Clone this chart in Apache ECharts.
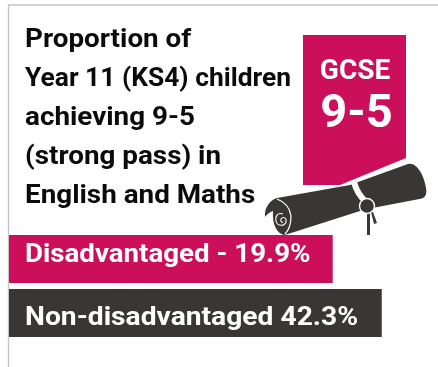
<!DOCTYPE html>
<html>
<head>
<meta charset="utf-8">
<style>html,body{margin:0;padding:0;background:#fff}#chart{width:438px;height:367px}</style>
<script src="https://cdn.jsdelivr.net/npm/echarts@6/dist/echarts.min.js"></script>
</head>
<body>
<div id="chart"></div>
<script>
// KS4 attainment at grades 9-5 in English and Maths
const titleLines = ['Proportion of', 'Year 11 (KS4) children', 'achieving 9-5', '(strong pass) in', 'English and Maths'];
const categories = ['Disadvantaged', 'Non-disadvantaged'];
const values = [19.9, 42.3];
const barLabels = ['Disadvantaged - 19.9%', 'Non-disadvantaged 42.3%'];
const PINK = '#cb0f5a';
const DARK = '#383736';
const FONT = 'Roboto';
const AXIS_MIN = -128;
const AXIS_MAX = 68;

// Outline shapes for the rolled scroll
function shape(name, pathData) {
  echarts.graphic.registerShape(name, echarts.graphic.extendPath(pathData, {}));
  return name;
}
const rollBody = shape('rollBody', 'M265 217 C264 208 270 200 277 198 L350 185 L358 182 L408 164 C416 162 424 174 426 188 C427 193 426 197 422 198.5 L375 207.5 L360 211 L288 234 L284 235 C277 233 272 225 273 211 C270 212 267 214 265 217 Z');
const rollEdge = shape('rollEdge', 'M277 199 C285 202 290 208 291 216 C291 224 289 230 285 234');
const rollCurl = shape('rollCurl', 'M283 214 C278 212 275 216 276 221 C277 226 284 227 286 222 C287 218 283 216 281 219 C280 221 282 223 283 222');
const rollTie = shape('rollTie', 'M354 182 C356 190 360 196 365 201');

// Lettering is slightly extended; the long line is set tighter to fit beside the ribbon
const titleText = titleLines.map((line, i) => ({
  type: 'text', x: 25, y: 46.7 + i * 39 - 19.5, scaleX: i === 1 ? 1.015 : 1.07,
  style: { text: line, font: '700 26px ' + FONT, fill: '#0b0b0b' }
}));

const emblem = [
  { type: 'polygon', shape: { points: [[303, 35], [406, 35], [406, 158], [340, 185], [303, 185]] }, style: { fill: PINK } },
  { type: 'text', x: 355, y: 58, style: { text: 'GCSE', font: '700 28px ' + FONT, fill: '#fff', textAlign: 'center' } },
  { type: 'text', x: 356.5, y: 92, style: { text: '9-5', font: '700 47px ' + FONT, fill: '#fff', textAlign: 'center' } },
  { type: rollBody, style: { fill: DARK } },
  { type: rollEdge, style: { fill: 'none', stroke: '#fff', lineWidth: 1.2 } },
  { type: rollCurl, style: { fill: 'none', stroke: '#fff', lineWidth: 1.1 } },
  { type: rollTie, style: { fill: 'none', stroke: '#fff', lineWidth: 6 } },
  { type: 'polygon', shape: { points: [[367, 212], [370, 212], [370, 235], [367, 235]] }, style: { fill: DARK } },
  { type: 'polygon', shape: { points: [[371, 212], [373, 212], [377, 223], [374, 224]] }, style: { fill: DARK } },
  { type: 'circle', shape: { cx: 367, cy: 206, r: 7.5 }, style: { fill: DARK, stroke: '#fff', lineWidth: 1.4 } }
];

// Card frame along the top and left edges
const frame = [
  { type: 'polyline', shape: { points: [[8.5, 367], [8.5, 5], [438, 5]] }, style: { fill: 'none', stroke: '#c4c4c4', lineWidth: 1.3 } }
];

// Bars run from the truncated axis start to each value
function renderBar(params, api) {
  const i = api.value(1);
  const end = api.coord([api.value(0), i]);
  const start = api.coord([AXIS_MIN, i]);
  const height = 48;
  return {
    type: 'group',
    children: [
      { type: 'rect', shape: { x: start[0], y: end[1] - height / 2, width: end[0] - start[0], height },
        style: { fill: i === 0 ? PINK : DARK } },
      { type: 'text', x: start[0] + 16, y: end[1] + (i === 0 ? -16.5 : -8), scaleX: i === 0 ? 1.065 : 1.085,
        style: { text: barLabels[i], font: '700 26px ' + FONT, fill: '#fff' } }
    ]
  };
}

const chart = echarts.init(document.getElementById('chart'), null, { renderer: 'canvas' });
chart.setOption({
  animation: false,
  backgroundColor: '#fff',
  grid: { left: 9, top: 232, width: 429, height: 108 },
  xAxis: { type: 'value', min: AXIS_MIN, max: AXIS_MAX, show: false },
  yAxis: { type: 'category', data: categories, inverse: true, show: false },
  series: [{
    type: 'custom',
    renderItem: renderBar,
    encode: { x: 0, y: 1 },
    data: values.map((v, i) => [v, i])
  }],
  graphic: { elements: [...frame, ...titleText, ...emblem] }
});
</script>
</body>
</html>
